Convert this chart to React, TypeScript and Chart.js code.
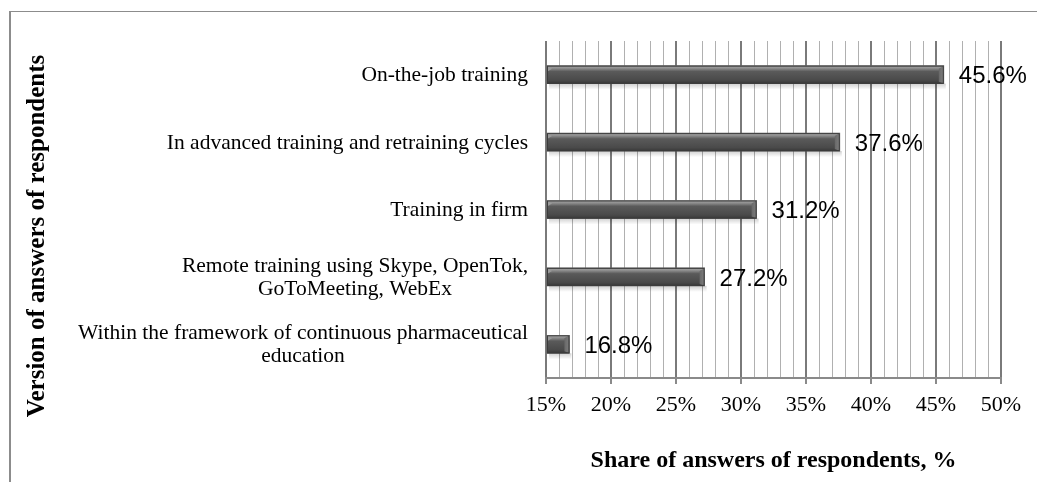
import React, { useEffect, useRef } from "react";
import { Chart, registerables } from "chart.js";

Chart.register(...registerables);

const categories: string[][] = [
  ["On-the-job training"],
  ["In advanced training and retraining cycles"],
  ["Training in firm"],
  ["Remote training using Skype, OpenTok,", "GoToMeeting, WebEx"],
  ["Within the framework of continuous pharmaceutical", "education"],
];
const shares: number[] = [45.6, 37.6, 31.2, 27.2, 16.8];
const axisMin = 15;
const axisMax = 50;
const tickStep = 1;
const majorStep = 5;
const xTitle = "Share of answers of respondents, %";
const yTitle = "Version of answers of respondents";

const SERIF = "'Liberation Serif', 'Times New Roman', serif";
const SANS = "'Liberation Sans', Arial, sans-serif";

const isMajor = (v: number) => Math.abs(v % majorStep) < 1e-6;

const decorPlugin = {
  id: "decor",
  beforeDraw(chart: any) {
    const ctx = chart.ctx;
    ctx.save();
    ctx.fillStyle = "#ffffff";
    ctx.fillRect(0, 0, chart.width, chart.height);
    ctx.fillStyle = "#8c8c8c";
    ctx.fillRect(10, 11, chart.width - 10, 1);
    ctx.fillRect(9, 11, 2, chart.height - 11);
    ctx.restore();
  },
  beforeDatasetsDraw(chart: any) {
    const ctx = chart.ctx;
    const meta = chart.getDatasetMeta(0);
    const left = chart.chartArea.left;
    ctx.save();
    meta.data.forEach((bar: any) => {
      const h = bar.height;
      const x0 = Math.max(left, Math.min(bar.base, bar.x));
      const x1 = Math.max(bar.base, bar.x);
      const bottom = bar.y + h / 2;
      const g = ctx.createLinearGradient(0, bottom, 0, bottom + 6);
      g.addColorStop(0, "rgba(0,0,0,0.18)");
      g.addColorStop(1, "rgba(0,0,0,0)");
      ctx.fillStyle = g;
      ctx.fillRect(x0 + 2, bottom, x1 - x0, 6);
    });
    ctx.restore();
  },
  afterDatasetsDraw(chart: any) {
    const ctx = chart.ctx;
    const meta = chart.getDatasetMeta(0);
    const left = chart.chartArea.left;
    ctx.save();
    meta.data.forEach((bar: any, i: number) => {
      const h = bar.height;
      const top = bar.y - h / 2;
      const bottom = bar.y + h / 2;
      const x0 = Math.max(left, Math.min(bar.base, bar.x));
      const x1 = Math.max(bar.base, bar.x);
      // body gradient
      const g = ctx.createLinearGradient(0, top, 0, bottom);
      g.addColorStop(0, "#a8a8a8");
      g.addColorStop(0.14, "#8e8e8e");
      g.addColorStop(0.32, "#5a5a5a");
      g.addColorStop(0.8, "#4a4a4a");
      g.addColorStop(1, "#383838");
      ctx.fillStyle = g;
      ctx.fillRect(x0, top, x1 - x0, h);
      // right bevel
      const b = Math.min(5, (x1 - x0) / 3);
      const gr = ctx.createLinearGradient(x1 - b, 0, x1, 0);
      gr.addColorStop(0, "#686868");
      gr.addColorStop(1, "#7e7e7e");
      ctx.fillStyle = gr;
      ctx.beginPath();
      ctx.moveTo(x1 - b, top + 3);
      ctx.lineTo(x1, top);
      ctx.lineTo(x1, bottom);
      ctx.lineTo(x1 - b, bottom - 2);
      ctx.closePath();
      ctx.fill();
      // left top bevel
      ctx.fillStyle = "#9a9a9a";
      ctx.beginPath();
      ctx.moveTo(x0, top);
      ctx.lineTo(x0 + b, top + 3);
      ctx.lineTo(x0, top + 6);
      ctx.closePath();
      ctx.fill();
      // outline
      ctx.strokeStyle = "#3c3c3c";
      ctx.lineWidth = 1;
      ctx.strokeRect(x0 + 0.5, top + 0.5, x1 - x0 - 1, h - 1);

      // value label
      ctx.fillStyle = "#000";
      ctx.font = `24px ${SANS}`;
      ctx.textAlign = "left";
      ctx.textBaseline = "middle";
      ctx.fillText(shares[i].toFixed(1) + "%", x1 + 15, bar.y + 2);
    });
    ctx.restore();
  },
  afterDraw(chart: any) {
    const ctx = chart.ctx;
    const area = chart.chartArea;
    const yScale = chart.scales.y;
    ctx.save();
    // category labels
    ctx.fillStyle = "#000";
    ctx.font = `21.5px ${SERIF}`;
    ctx.textAlign = "center";
    ctx.textBaseline = "middle";
    const rightEdge = area.left - 18;
    const lineH = 23;
    categories.forEach((lines, i) => {
      const cy = yScale.getPixelForValue(i);
      const maxW = Math.max(...lines.map((l) => ctx.measureText(l).width));
      const cx = rightEdge - maxW / 2;
      const startY = cy - ((lines.length - 1) * lineH) / 2 + 1;
      lines.forEach((l, k) => ctx.fillText(l, cx, startY + k * lineH));
    });
    // axis titles
    ctx.font = `bold 24px ${SERIF}`;
    ctx.fillText(xTitle, (area.left + area.right) / 2, 461);
    ctx.translate(38, 236);
    ctx.rotate(-Math.PI / 2);
    ctx.font = `bold 25px ${SERIF}`;
    ctx.fillText(yTitle, 0, 0);
    ctx.restore();
  },
};

export default function App() {
  const ref = useRef<HTMLCanvasElement | null>(null);
  useEffect(() => {
    if (!ref.current) return;
    const chart = new Chart(ref.current, {
      type: "bar",
      data: {
        labels: categories.map((c) => c.join(" ")),
        datasets: [
          {
            data: shares,
            base: axisMin,
            backgroundColor: "#525252",
            barThickness: 18,
          } as any,
        ],
      },
      options: {
        indexAxis: "y",
        animation: false,
        responsive: false,
        layout: { padding: { left: 546, right: 36, top: 41, bottom: 0 } },
        plugins: { legend: { display: false }, tooltip: { enabled: false }, title: { display: false } },
        scales: {
          x: {
            min: axisMin,
            max: axisMax,
            afterFit: (s: any) => {
              s.height = 104;
            },
            border: { display: true, color: "#8a8a8a", width: 2 },
            grid: {
              color: (c: any) => (c.tick && isMajor(c.tick.value) ? "#7a7a7a" : "#b0b0b0"),
              lineWidth: (c: any) => (c.tick && isMajor(c.tick.value) ? 2 : 1),
              tickColor: (c: any) => (c.tick && isMajor(c.tick.value) ? "#8a8a8a" : "rgba(0,0,0,0)"),
              tickLength: 6,
              drawTicks: true,
            },
            ticks: {
              stepSize: tickStep,
              autoSkip: false,
              maxRotation: 0,
              padding: 8,
              color: "#000",
              font: { family: SERIF, size: 22 },
              callback: (v: any) => (isMajor(Number(v)) ? `${v}%` : ""),
            },
          },
          y: {
            display: false,
            grid: { display: false },
          },
        },
      },
      plugins: [decorPlugin],
    });
    return () => chart.destroy();
  }, []);
  return (
    <canvas
      ref={ref}
      width={1037}
      height={482}
      style={{ position: "absolute", left: 0, top: 0, width: 1037, height: 482 }}
    />
  );
}
